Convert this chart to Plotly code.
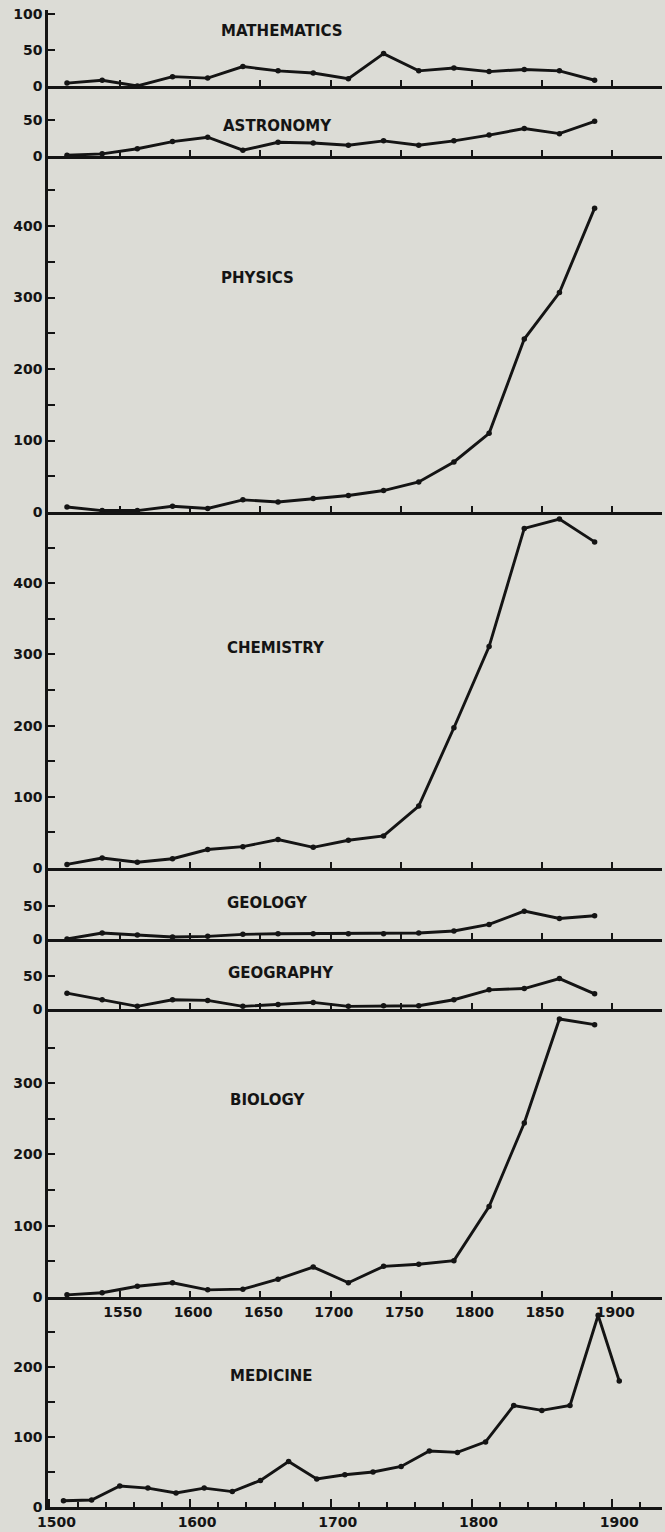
import plotly.graph_objects as go

# 25-year period midpoints (first seven subjects)
periods = [1512.5, 1537.5, 1562.5, 1587.5, 1612.5, 1637.5, 1662.5, 1687.5,
           1712.5, 1737.5, 1762.5, 1787.5, 1812.5, 1837.5, 1862.5, 1887.5]

mathematics = [4, 8, 0, 13, 11, 27, 21, 18, 10, 45, 21, 25, 20, 23, 21, 8]
astronomy = [1, 3, 10, 20, 26, 8, 19, 18, 15, 21, 15, 21, 29, 38, 31, 48]
physics = [7, 2, 2, 8, 5, 17, 14, 19, 23, 30, 42, 70, 110, 242, 307, 425]
chemistry = [5, 14, 8, 13, 26, 30, 40, 29, 39, 45, 87, 197, 311, 477, 490, 458]
geology = [0, 9, 6, 3, 4, 7, 8, 8, 8, 8, 9, 12, 22, 42, 31, 35]
geography = [24, 14, 4, 14, 13, 4, 7, 10, 4, 5, 5, 14, 29, 31, 46, 23]
biology = [3, 6, 15, 20, 10, 11, 25, 42, 20, 43, 46, 51, 127, 244, 390, 382]

# medicine is tallied in 20-year periods
medicine_periods = [1510, 1530, 1550, 1570, 1590, 1610, 1630, 1650, 1670, 1690,
                    1710, 1730, 1750, 1770, 1790, 1810, 1830, 1850, 1870, 1890, 1905]
medicine = [9, 10, 30, 27, 20, 27, 22, 38, 65, 40, 46, 50, 58, 80, 78, 93,
            145, 138, 145, 274, 180]

subjects = ["MATHEMATICS", "ASTRONOMY", "PHYSICS", "CHEMISTRY",
            "GEOLOGY", "GEOGRAPHY", "BIOLOGY", "MEDICINE"]

# y-axis tick values and labels per panel
y_ticks = [
    ([0, 50, 100], ["0", "50", "100"]),
    ([0, 50], ["0", "50"]),
    ([0, 50, 100, 150, 200, 250, 300, 350, 400, 450],
     ["0", "", "100", "", "200", "", "300", "", "400", ""]),
    ([0, 50, 100, 150, 200, 250, 300, 350, 400, 450],
     ["0", "", "100", "", "200", "", "300", "", "400", ""]),
    ([0, 50], ["0", "50"]),
    ([0, 50], ["0", "50"]),
    ([0, 50, 100, 150, 200, 250, 300, 350],
     ["0", "", "100", "", "200", "", "300", ""]),
    ([0, 50, 100, 150, 200, 250], ["0", "", "100", "", "200", ""]),
]
upper_x_ticks = [1550, 1600, 1650, 1700, 1750, 1800, 1850, 1900]
medicine_x_ticks = [1500, 1600, 1700, 1800, 1900]
medicine_minor_ticks = [1520, 1540, 1560, 1580, 1620, 1640, 1660, 1680,
                        1720, 1740, 1760, 1780, 1820, 1840, 1860, 1880, 1920]

# ---- layout geometry -------------------------------------------------
W, H = 665, 1532
M_L, M_R, M_T, M_B = 48, 3, 10, 25
PLOT_W = W - M_L - M_R
PLOT_H = H - M_T - M_B
# panel edges in page pixels (top of first panel .. bottom of last)
edges = [10, 86, 156, 512, 868, 939, 1009, 1297, 1507]
y_tops = [105.5, 97, 498, 500, 107, 106, 404, 300]
X_RANGE = [1499, 1499 + PLOT_W / 1.407]

INK = "#141414"
BG = "#dcdcd6"
FONT = "DejaVu Sans"


def paper_y(py):
    return (M_T + PLOT_H - py) / PLOT_H


def paper_x(px):
    return (px - M_L) / PLOT_W


series = [
    (periods, mathematics), (periods, astronomy), (periods, physics),
    (periods, chemistry), (periods, geology), (periods, geography),
    (periods, biology), (medicine_periods, medicine),
]

fig = go.Figure()
layout = {}
for i, (xs, ys) in enumerate(series):
    n = i + 1
    sfx = "" if n == 1 else str(n)
    fig.add_trace(go.Scatter(
        x=xs, y=ys, name=subjects[i], xaxis="x" + sfx, yaxis="y" + sfx,
        mode="lines+markers",
        line=dict(color=INK, width=2.9),
        marker=dict(color=INK, size=5.5),
        cliponaxis=False, showlegend=False,
    ))

    xa = dict(
        domain=[0, 1], range=X_RANGE, anchor="y" + sfx,
        showline=True, linecolor=INK, linewidth=2.6,
        showgrid=False, zeroline=False,
        ticks="inside", ticklen=6, tickwidth=2, tickcolor=INK,
        tickfont=dict(family=FONT, size=14, color=INK, weight="bold"),
        fixedrange=True,
    )
    if n == 8:
        xa.update(tickvals=medicine_x_ticks,
                  ticktext=[str(v) for v in medicine_x_ticks],
                  ticklen=8, ticklabelshift=7,
                  minor=dict(tickvals=medicine_minor_ticks, ticks="inside",
                             ticklen=5, tickwidth=2, tickcolor=INK))
    elif n == 7:
        xa.update(tickvals=upper_x_ticks,
                  ticktext=[str(v) for v in upper_x_ticks],
                  ticklabelshift=3, ticklabelstandoff=0)
    else:
        xa.update(tickvals=upper_x_ticks, showticklabels=False)

    tv, tt = y_ticks[i]
    ya = dict(
        domain=[paper_y(edges[i + 1]), paper_y(edges[i])],
        range=[0, y_tops[i]], anchor="x" + sfx,
        showline=True, linecolor=INK, linewidth=2.6,
        showgrid=False, zeroline=False,
        ticks="inside", ticklen=7, tickwidth=2, tickcolor=INK,
        tickvals=tv, ticktext=tt,
        tickfont=dict(family=FONT, size=14, color=INK, weight="bold"),
        fixedrange=True,
    )
    layout["xaxis" + sfx] = xa
    layout["yaxis" + sfx] = ya

# subject names inside each panel
title_pos = [(282, 31), (277, 126), (257, 278), (276, 648),
             (267, 903), (281, 973), (268, 1100), (271, 1376)]
annotations = []
for name, (px, py) in zip(subjects, title_pos):
    annotations.append(dict(
        text=name, xref="paper", yref="paper",
        x=paper_x(px), y=paper_y(py), xanchor="center", yanchor="middle",
        showarrow=False,
        font=dict(family=FONT, size=15, color=INK, weight="bold"),
    ))

fig.update_layout(
    width=W, height=H,
    margin=dict(l=M_L, r=M_R, t=M_T, b=M_B, pad=0),
    paper_bgcolor=BG, plot_bgcolor=BG,
    annotations=annotations,
    **layout,
)

fig.write_html("out.html", config={"displayModeBar": False})
